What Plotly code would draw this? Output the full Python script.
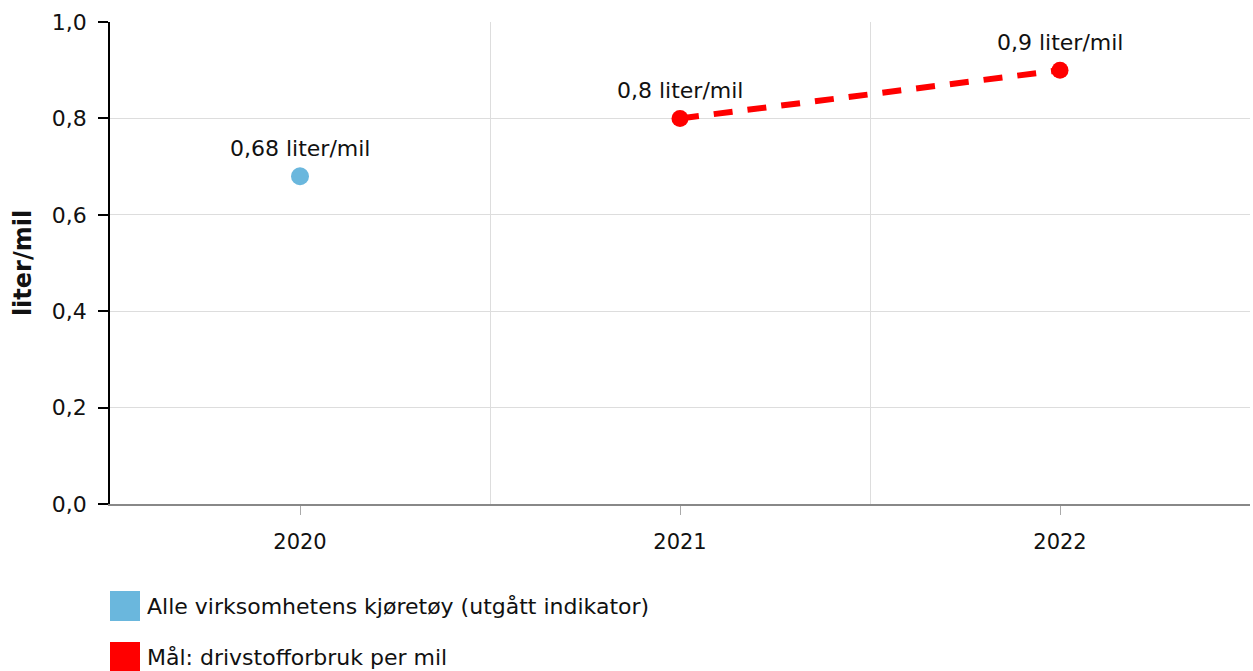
import plotly.graph_objects as go

# data
years_actual = [2020]
values_actual = [0.68]
labels_actual = ["0,68 liter/mil"]

years_goal = [2021, 2022]
values_goal = [0.8, 0.9]
labels_goal = ["0,8 liter/mil", "0,9 liter/mil"]

series_names = ["Alle virksomhetens kjøretøy (utgått indikator)", "Mål: drivstofforbruk per mil"]
series_colors = ["#6ab7dd", "#ff0000"]

y_ticks = [0, 0.2, 0.4, 0.6, 0.8, 1.0]
y_ticktext = ["0,0", "0,2", "0,4", "0,6", "0,8", "1,0"]

FONT = "Verdana, DejaVu Sans, sans-serif"
W, H = 1253, 671
ML, MR, MT, MB = 110, 3, 22, 167
PW, PH = W - ML - MR, H - MT - MB


def px_x(px):
    return (px - ML) / PW


def px_y(py):
    return (H - MB - py) / PH


fig = go.Figure()

fig.add_trace(go.Scatter(
    x=years_actual, y=values_actual, mode="markers",
    marker=dict(color=series_colors[0], size=18),
    name=series_names[0], hoverinfo="skip",
))
fig.add_trace(go.Scatter(
    x=years_goal, y=values_goal, mode="lines+markers",
    line=dict(color=series_colors[1], width=6, dash="19px,15px"),
    marker=dict(color=series_colors[1], size=17),
    name=series_names[1], hoverinfo="skip",
))

for xs, ys, ls in [(years_actual, values_actual, labels_actual), (years_goal, values_goal, labels_goal)]:
    for x, y, t in zip(xs, ys, ls):
        fig.add_annotation(x=x, y=y, text=t, showarrow=False, yshift=28,
                           font=dict(size=22, color="#111", family=FONT))

# manual legend
legend_rows = [606, 657]
for name, color, cy in zip(series_names, series_colors, legend_rows):
    fig.add_shape(type="rect", xref="paper", yref="paper",
                  x0=px_x(110), x1=px_x(140), y0=px_y(cy + 15), y1=px_y(cy - 15),
                  fillcolor=color, line=dict(width=0))
    fig.add_annotation(xref="paper", yref="paper", x=px_x(145), y=px_y(cy),
                       xanchor="left", yanchor="middle", text=name, showarrow=False,
                       font=dict(size=22, color="#111", family=FONT))

fig.update_layout(
    width=W, height=H,
    margin=dict(l=ML, r=MR, t=MT, b=MB),
    paper_bgcolor="white", plot_bgcolor="white",
    showlegend=False,
    font=dict(family=FONT, size=22, color="#111"),
    xaxis=dict(
        range=[2019.5, 2022.5],
        tickvals=[2020, 2021, 2022], ticktext=["2020", "2021", "2022"],
        showgrid=False, zeroline=False,
        showline=True, linecolor="#888", linewidth=1.5,
        ticks="outside", ticklen=9, tickcolor="#aaa", tickwidth=1,
        tickfont=dict(size=21), ticklabelstandoff=9,
        minor=dict(tickvals=[2020.5, 2021.5], showgrid=True, gridcolor="#dddddd", gridwidth=1, ticks=""),
    ),
    yaxis=dict(
        range=[0, 1.0],
        tickvals=y_ticks, ticktext=y_ticktext,
        showgrid=True, gridcolor="#dddddd", gridwidth=1, zeroline=False,
        showline=True, linecolor="#000", linewidth=1.5,
        ticks="outside", ticklen=10, tickcolor="#000", tickwidth=1.5,
        tickfont=dict(size=22), ticklabelstandoff=7,
        title=dict(text="<b>liter/mil</b>", font=dict(size=24), standoff=13),
    ),
)

fig.write_html("out.html", config={"displayModeBar": False},
               post_script="document.body.style.margin='0px';")
